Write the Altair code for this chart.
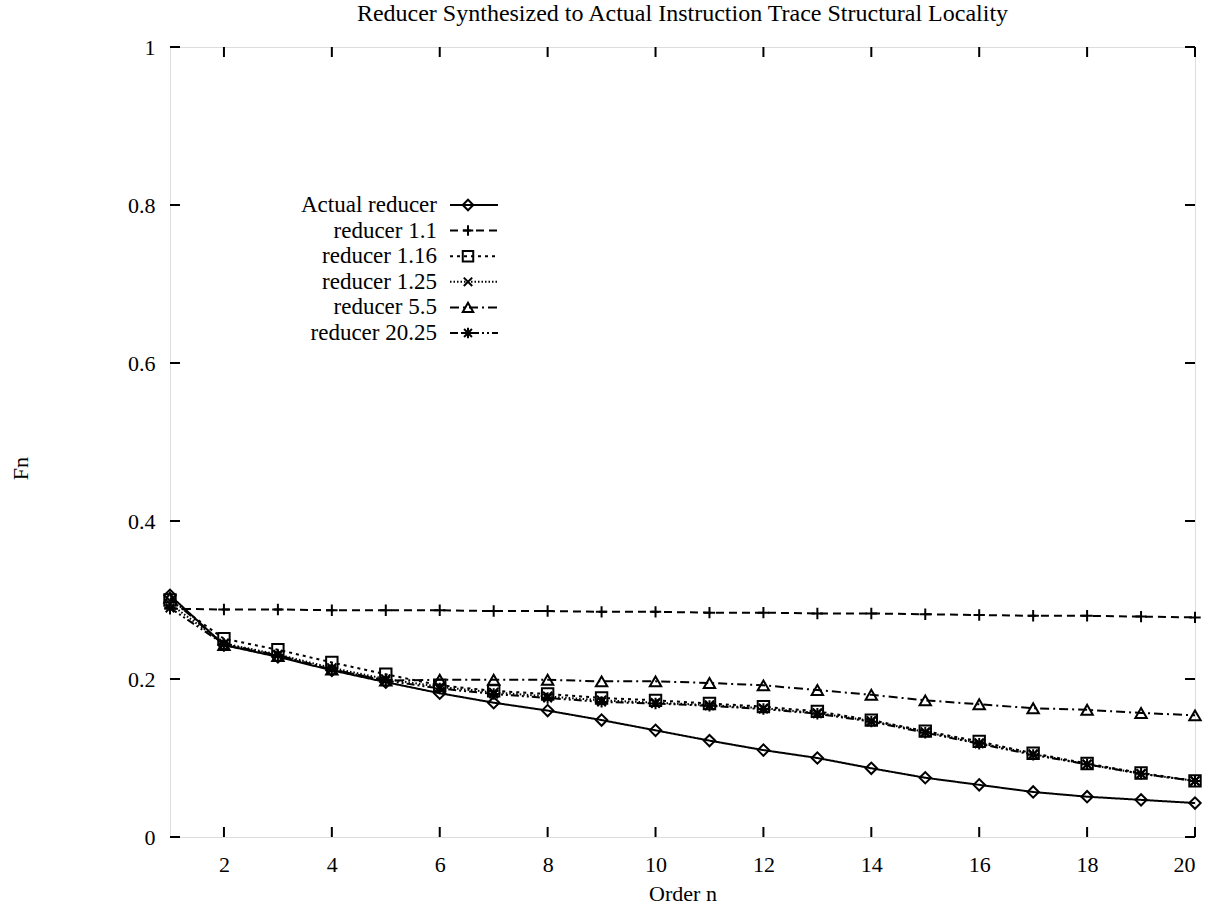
import altair as alt
import pandas as pd

# ---- data ----
order_n = list(range(1, 21))

series_names = ["Actual reducer", "reducer 1.1", "reducer 1.16",
                "reducer 1.25", "reducer 5.5", "reducer 20.25"]

actual = [0.306, 0.243, 0.228, 0.211, 0.196, 0.182, 0.170, 0.160, 0.148, 0.135,
          0.122, 0.110, 0.100, 0.087, 0.075, 0.066, 0.057, 0.051, 0.047, 0.043]
r_1_1 = [0.289, 0.288, 0.288, 0.287, 0.287, 0.287, 0.286, 0.286, 0.285, 0.285,
         0.284, 0.284, 0.283, 0.283, 0.282, 0.281, 0.280, 0.280, 0.279, 0.278]
r_1_16 = [0.300, 0.251, 0.237, 0.221, 0.206, 0.192, 0.185, 0.181, 0.176, 0.173,
          0.169, 0.165, 0.159, 0.148, 0.134, 0.121, 0.106, 0.093, 0.081, 0.071]
r_1_25 = [0.295, 0.245, 0.231, 0.214, 0.200, 0.190, 0.183, 0.178, 0.173, 0.170,
          0.167, 0.163, 0.157, 0.147, 0.133, 0.119, 0.105, 0.092, 0.080, 0.071]
r_5_5 = [0.303, 0.243, 0.229, 0.212, 0.198, 0.199, 0.199, 0.199, 0.197, 0.197,
         0.195, 0.192, 0.186, 0.180, 0.173, 0.168, 0.163, 0.161, 0.157, 0.154]
r_20_25 = [0.290, 0.244, 0.230, 0.212, 0.198, 0.188, 0.181, 0.176, 0.171, 0.169,
           0.166, 0.162, 0.156, 0.146, 0.132, 0.118, 0.104, 0.092, 0.080, 0.071]

series_values = [actual, r_1_1, r_1_16, r_1_25, r_5_5, r_20_25]

x_tick_values = [2, 4, 6, 8, 10, 12, 14, 16, 18, 20]
y_tick_values = [0, 0.2, 0.4, 0.6, 0.8, 1.0]

# ---- styles ----
FONT = "Liberation Serif"
W, H = 1025, 790
LW = 2.0
dashes = [[1, 0], [8, 5], [3, 4], [1.5, 2], [9, 4, 2, 4], [8, 3, 2, 3, 2, 3]]
shapes = [
    "diamond",
    "M-1,0H1M0,-1V1",
    "square",
    "M-0.8,-0.8L0.8,0.8M-0.8,0.8L0.8,-0.8",
    "triangle-up",
    "M-1,0H1M0,-1V1M-0.75,-0.75L0.75,0.75M-0.75,0.75L0.75,-0.75",
]

rows = []
for name, vals in zip(series_names, series_values):
    for n, v in zip(order_n, vals):
        rows.append({"n": n, "Fn": v, "series": name})
df = pd.DataFrame(rows)

x_scale = alt.Scale(domain=[1, 20], nice=False, zero=False)
y_scale = alt.Scale(domain=[0, 1], nice=False)

x_enc = alt.X("n:Q", scale=x_scale,
              axis=alt.Axis(values=x_tick_values, title="Order n", grid=False,
                            ticks=False, domain=False, labelFont=FONT,
                            labelFontSize=22, labelPadding=17, labelColor="black",
                            titleFont=FONT, titleFontSize=22, titleFontWeight="normal",
                            titleColor="black", titleY=56, titleBaseline="middle"))
y_enc = alt.Y("Fn:Q", scale=y_scale,
              axis=alt.Axis(values=y_tick_values, title="Fn", grid=False, format="~g",
                            ticks=False, domain=False, labelFont=FONT,
                            labelFontSize=22, labelPadding=15, labelColor="black",
                            titleFont=FONT, titleFontSize=22, titleFontWeight="normal",
                            titleColor="black", titleAngle=270, titleX=-150,
                            titleY=421, titleAlign="center", titleBaseline="middle"))

base = alt.Chart(df)
lines = base.mark_line(color="black", strokeWidth=LW).encode(
    x=x_enc, y=y_enc,
    strokeDash=alt.StrokeDash("series:N", scale=alt.Scale(domain=series_names, range=dashes),
                              legend=None),
    detail="series:N",
)
points = base.mark_point(color="black", filled=False, strokeWidth=LW, size=130, opacity=1).encode(
    x="n:Q", y="Fn:Q",
    shape=alt.Shape("series:N", scale=alt.Scale(domain=series_names, range=shapes),
                    legend=None),
)

# inward ticks on all four sides
xt = pd.DataFrame({"t": x_tick_values})
yt = pd.DataFrame({"t": y_tick_values})
tick_layers = [
    alt.Chart(xt).mark_rule(color="black", strokeWidth=2).encode(
        x="t:Q", y=alt.value(H), y2=alt.value(H - 10)),
    alt.Chart(xt).mark_rule(color="black", strokeWidth=2).encode(
        x="t:Q", y=alt.value(0), y2=alt.value(10)),
    alt.Chart(yt).mark_rule(color="black", strokeWidth=2).encode(
        y="t:Q", x=alt.value(0), x2=alt.value(10)),
    alt.Chart(yt).mark_rule(color="black", strokeWidth=2).encode(
        y="t:Q", x=alt.value(W), x2=alt.value(W - 10)),
]

# legend inside the plot (text right-aligned, sample line to its right)
legend_layers = []
for i, (name, d, s) in enumerate(zip(series_names, dashes, shapes)):
    ly = 158 + 25.6 * i
    ld = pd.DataFrame({"label": [name]})
    legend_layers.append(
        alt.Chart(ld).mark_text(align="right", baseline="middle", font=FONT,
                                fontSize=23, color="black").encode(
            text="label:N", x=alt.value(267), y=alt.value(ly)))
    legend_layers.append(
        alt.Chart(ld).mark_rule(color="black", strokeWidth=LW, strokeDash=d).encode(
            x=alt.value(280), x2=alt.value(328), y=alt.value(ly)))
    legend_layers.append(
        alt.Chart(ld).mark_point(color="black", filled=False, strokeWidth=LW, size=110,
                                 shape=s, opacity=1).encode(
            x=alt.value(298), y=alt.value(ly)))

chart = alt.layer(lines, points, *tick_layers, *legend_layers).properties(
    width=W, height=H,
    title=alt.TitleParams("Reducer Synthesized to Actual Instruction Trace Structural Locality",
                          font=FONT, fontSize=24, fontWeight="normal", color="black",
                          anchor="middle", offset=10),
    autosize=alt.AutoSizeParams(type="none"),
    padding={"left": 170, "top": 47, "right": 22, "bottom": 72},
).configure_view(stroke="black", strokeWidth=2).configure(background="white")

chart.save("out.html", embed_options={"renderer": "svg", "actions": False})
